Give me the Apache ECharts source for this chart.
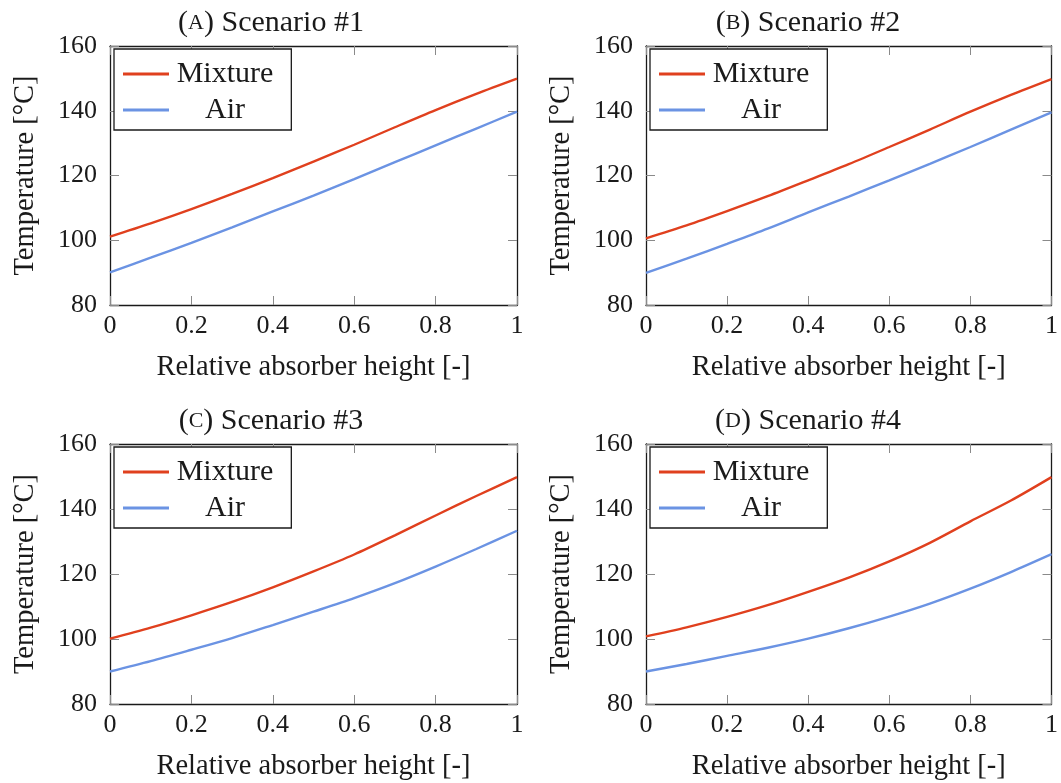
<!DOCTYPE html>
<html>
<head>
<meta charset="utf-8">
<script src="https://cdn.jsdelivr.net/npm/echarts@6/dist/echarts.min.js"></script>
<style>
html,body{margin:0;padding:0;background:#fff;}
#chart{width:1061px;height:783px;}
</style>
</head>
<body>
<div id="chart"></div>
<script>
// Relative absorber height (x)
const heights = [0, 0.1, 0.2, 0.3, 0.4, 0.5, 0.6, 0.7, 0.8, 0.9, 1.0];

// Scenario #1
const mixtureA = [101.1, 105.2, 109.6, 114.3, 119.2, 124.3, 129.5, 134.9, 140.2, 145.2, 149.9];
const airA     = [90.1, 94.6, 99.2, 104.0, 108.9, 113.8, 118.9, 124.1, 129.3, 134.5, 139.7];
// Scenario #2
const mixtureB = [100.6, 104.6, 109.0, 113.6, 118.5, 123.5, 128.8, 134.2, 139.7, 144.9, 149.8];
const airB     = [89.9, 94.3, 98.9, 103.6, 108.6, 113.5, 118.5, 123.6, 128.8, 134.2, 139.5];
// Scenario #3
const mixtureC = [100.1, 103.5, 107.3, 111.4, 115.9, 120.8, 126.0, 131.9, 138.0, 144.0, 149.8];
const airC     = [90.0, 93.2, 96.7, 100.3, 104.3, 108.4, 112.6, 117.2, 122.3, 127.7, 133.3];
// Scenario #4
const mixtureD = [100.8, 103.6, 106.8, 110.4, 114.5, 118.9, 123.9, 129.6, 136.2, 142.6, 149.8];
const airD     = [90.0, 92.3, 94.8, 97.3, 100.1, 103.3, 106.9, 110.9, 115.5, 120.6, 126.1];

const panelLetters = ['A', 'B', 'C', 'D'];
const panelNames = ['Scenario #1', 'Scenario #2', 'Scenario #3', 'Scenario #4'];
const seriesNames = ['Mixture', 'Air'];
const xTickMin = 0, xTickMax = 1, xTickStep = 0.2;
const yTickMin = 80, yTickMax = 160, yTickStep = 20;
const xTitle = 'Relative absorber height [-]';
const yTitle = 'Temperature [°C]';

const mixtures = [mixtureA, mixtureB, mixtureC, mixtureD];
const airs = [airA, airB, airC, airD];

const FONT = '"Liberation Serif", "DejaVu Serif", serif';
const RED = '#E0401E';
const BLUE = '#6B93E3';
const INK = '#1a1a1a';

const grids = [
  {left: 110, top: 46, width: 407, height: 259},
  {left: 646, top: 46, width: 407, height: 259},
  {left: 110, top: 444, width: 407, height: 260},
  {left: 646, top: 444, width: 407, height: 260}
];
const titlePos = [
  {x: 266, y: 3}, {x: 803, y: 3}, {x: 266, y: 401}, {x: 803, y: 401}
];

const axisLine = {show: true, onZero: false, lineStyle: {color: INK, width: 1.3}};
const axisTick = {show: true, inside: true, length: 9, lineStyle: {color: '#8a8a8a', width: 1}};

const xAxes = [], yAxes = [], series = [], legends = [], titles = [];
grids.forEach((g, i) => {
  xAxes.push({
    gridIndex: i, type: 'value', min: xTickMin, max: xTickMax, interval: xTickStep, position: 'bottom',
    axisLine, axisTick,
    axisLabel: {fontSize: 26, color: INK, fontFamily: FONT, margin: 8},
    splitLine: {show: false},
    name: xTitle, nameLocation: 'middle', nameGap: 48,
    nameTextStyle: {fontSize: 28.5, color: INK, fontFamily: FONT}
  });
  xAxes.push({
    gridIndex: i, type: 'value', min: xTickMin, max: xTickMax, interval: xTickStep, position: 'top',
    axisLine, axisTick, axisLabel: {show: false}, splitLine: {show: false}
  });
  yAxes.push({
    gridIndex: i, type: 'value', min: yTickMin, max: yTickMax, interval: yTickStep, position: 'left',
    axisLine, axisTick,
    axisLabel: {fontSize: 26, color: INK, fontFamily: FONT, margin: 13},
    splitLine: {show: false},
    name: yTitle, nameLocation: 'middle', nameGap: 70, nameRotate: 90,
    nameTextStyle: {fontSize: 28.5, color: INK, fontFamily: FONT}
  });
  yAxes.push({
    gridIndex: i, type: 'value', min: yTickMin, max: yTickMax, interval: yTickStep, position: 'right',
    axisLine, axisTick, axisLabel: {show: false}, splitLine: {show: false}
  });

  series.push({
    name: seriesNames[0], type: 'line', xAxisIndex: 2 * i, yAxisIndex: 2 * i,
    data: heights.map((h, k) => [h, mixtures[i][k]]),
    smooth: 0.3, showSymbol: false, symbol: 'none', color: RED,
    lineStyle: {color: RED, width: 2.4}, z: 3
  });
  series.push({
    name: seriesNames[1], type: 'line', xAxisIndex: 2 * i, yAxisIndex: 2 * i,
    data: heights.map((h, k) => [h, airs[i][k]]),
    smooth: 0.3, showSymbol: false, symbol: 'none', color: BLUE,
    lineStyle: {color: BLUE, width: 2.4}, z: 3
  });

  legends.push({
    data: seriesNames.slice(),
    left: g.left + 4, top: g.top + 3,
    orient: 'vertical',
    icon: 'rect', itemWidth: 46, itemHeight: 3, itemGap: 6,
    padding: [10, 18, 5, 9],
    borderColor: INK, borderWidth: 1.3, backgroundColor: '#fff',
    selectedMode: false,
    formatter: name => '{a|' + name + '}',
    textStyle: {
      fontFamily: FONT, fontSize: 30, color: INK,
      rich: {a: {width: 102, align: 'center', fontFamily: FONT, fontSize: 30, color: INK}}
    }
  });

  titles.push({
    text: '({sc|' + panelLetters[i] + '}) ' + panelNames[i],
    left: titlePos[i].x, top: titlePos[i].y, textAlign: 'center',
    textStyle: {
      fontFamily: FONT, fontSize: 30, fontWeight: 'normal', color: INK,
      rich: {sc: {fontFamily: FONT, fontSize: 22, color: INK}}
    }
  });
});

const chart = echarts.init(document.getElementById('chart'), null, {renderer: 'canvas'});
chart.setOption({
  animation: false,
  backgroundColor: '#fff',
  title: titles,
  grid: grids,
  xAxis: xAxes,
  yAxis: yAxes,
  legend: legends,
  series: series
});
</script>
</body>
</html>
